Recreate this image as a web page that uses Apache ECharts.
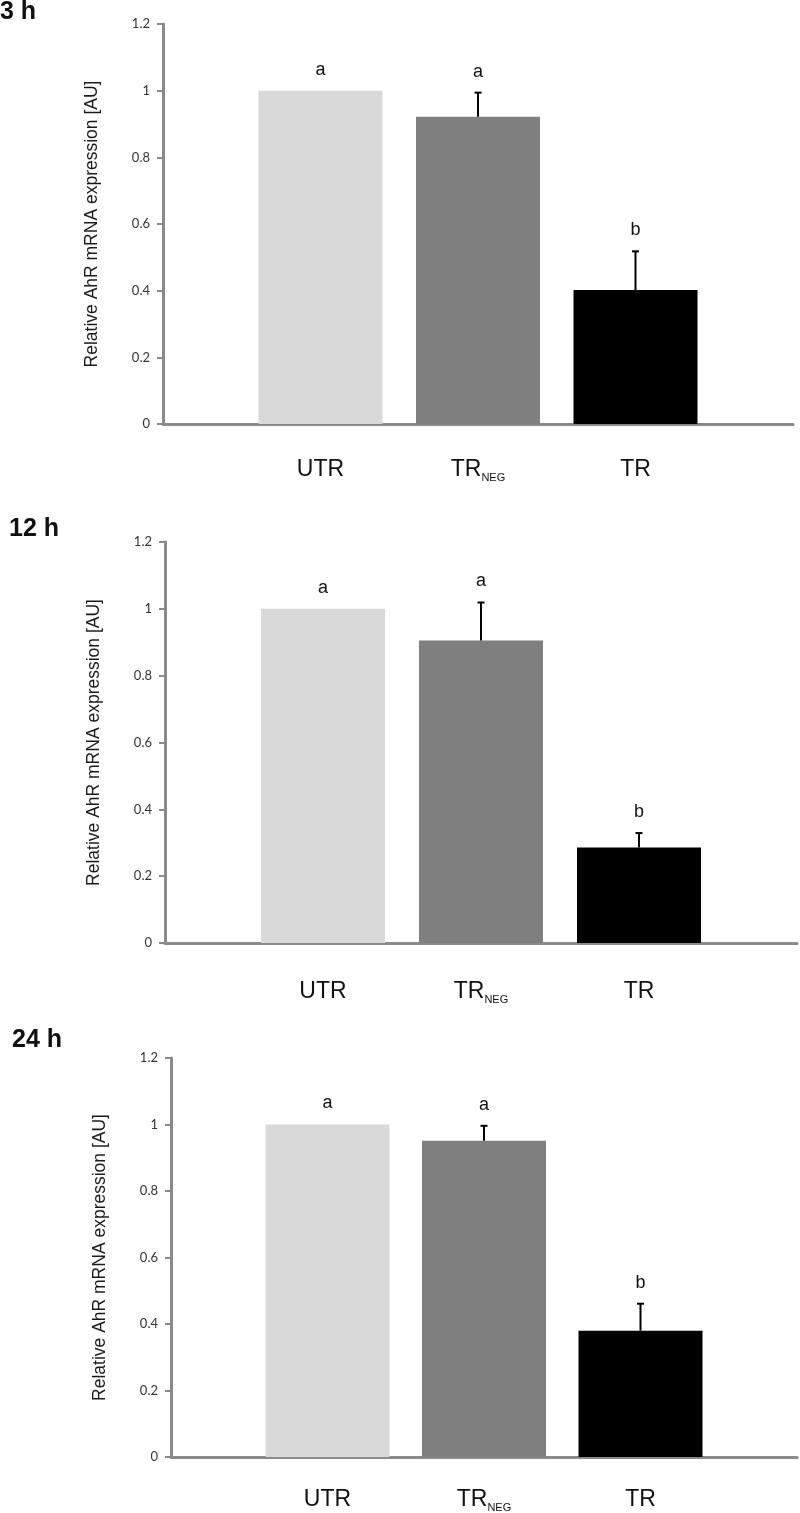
<!DOCTYPE html>
<html>
<head>
<meta charset="utf-8">
<script src="https://cdn.jsdelivr.net/npm/echarts@6/dist/echarts.min.js"></script>
<style>
  html, body { margin: 0; padding: 0; background: #ffffff; }
  #chart { width: 800px; height: 1513px; }
</style>
</head>
<body>
<div id="chart"></div>
<script>
// ---- data ----
const categories = ['UTR', 'TR_NEG', 'TR'];
const panelTitles = ['3 h', '12 h', '24 h'];
const yAxisName = 'Relative AhR mRNA expression [AU]';

const means3h  = [1.0, 0.922, 0.402];
const errors3h = [0, 0.072, 0.116];
const letters3h = ['a', 'a', 'b'];

const means12h  = [1.0, 0.905, 0.286];
const errors12h = [0, 0.114, 0.043];
const letters12h = ['a', 'a', 'b'];

const means24h  = [1.0, 0.951, 0.380];
const errors24h = [0, 0.045, 0.081];
const letters24h = ['a', 'a', 'b'];

const yMin = 0, yMax = 1.2, yStep = 0.2;
const barColors = ['#d9d9d9', '#7f7f7f', '#000000'];

// ---- layout ----
const panels = [
  { means: means3h,  errors: errors3h,  letters: letters3h,  grid: { left: 163, right: 7, top: 24,   height: 400 },  title: { left: 0,  top: 0 },    labelMargin: 33 },
  { means: means12h, errors: errors12h, letters: letters12h, grid: { left: 165, right: 3, top: 542,  height: 401 },  title: { left: 9,  top: 517 },  labelMargin: 36 },
  { means: means24h, errors: errors24h, letters: letters24h, grid: { left: 171, right: 0, top: 1058, height: 400 },  title: { left: 12, top: 1028 }, labelMargin: 30 }
];

// padded category list: empty slot at each end, boundaryGap false
const paddedCats = [''].concat(categories, ['']);

const axisGray = '#8a8a8a';
const option = {
  backgroundColor: '#ffffff',
  animation: false,
  title: panels.map((p, i) => ({
    text: panelTitles[i],
    left: p.title.left, top: p.title.top, padding: 0,
    textStyle: { fontFamily: 'Liberation Sans', fontWeight: 'bold', fontSize: 25, color: '#111' }
  })),
  grid: panels.map(p => Object.assign({ containLabel: false }, p.grid)),
  xAxis: panels.map((p, i) => ({
    type: 'category', gridIndex: i, data: paddedCats, boundaryGap: false,
    axisLine: { lineStyle: { color: axisGray, width: 3 } },
    axisTick: { show: false },
    splitLine: { show: false },
    axisLabel: {
      interval: 0, margin: p.labelMargin,
      formatter: function (v) {
        if (v === 'TR_NEG') return '{m|TR}{s|NEG}';
        return v ? '{m|' + v + '}' : '';
      },
      rich: {
        m: { fontFamily: 'Liberation Sans', fontSize: 23, lineHeight: 26, color: '#111' },
        s: { fontFamily: 'Liberation Sans', fontSize: 11, lineHeight: 10, verticalAlign: 'bottom', color: '#111' }
      }
    }
  })),
  yAxis: panels.map((p, i) => ({
    type: 'value', gridIndex: i, min: yMin, max: yMax, interval: yStep,
    name: yAxisName, nameLocation: 'middle', nameGap: 62,
    nameTextStyle: { fontFamily: 'Liberation Sans', fontSize: 17.5, color: '#1a1a1a' },
    axisLine: { show: true, lineStyle: { color: axisGray, width: 3 } },
    axisTick: { show: true, length: 6, lineStyle: { color: axisGray, width: 2 } },
    splitLine: { show: false },
    axisLabel: { fontFamily: 'Lato', fontSize: 13, color: '#333', margin: 13 }
  })),
  series: []
};

panels.forEach((p, i) => {
  // bars
  option.series.push({
    type: 'bar', xAxisIndex: i, yAxisIndex: i, barWidth: 124,
    data: p.means.map((m, k) => ({ value: [k + 1, m], itemStyle: { color: barColors[k] } })),
    z: 2
  });
  // error bars (upper only) + significance letters
  option.series.push({
    type: 'custom', xAxisIndex: i, yAxisIndex: i, z: 3,
    data: p.means.map((m, k) => [k + 1, m, m + p.errors[k], k]),
    renderItem: function (params, api) {
      const x = api.value(0), m = api.value(1), t = api.value(2), k = api.value(3);
      const p0 = api.coord([x, m]);
      const p1 = api.coord([x, t]);
      const children = [];
      if (t > m) {
        children.push({ type: 'line', shape: { x1: p0[0], y1: p0[1], x2: p1[0], y2: p1[1] }, style: { stroke: '#000', lineWidth: 2 } });
        children.push({ type: 'line', shape: { x1: p1[0] - 3.5, y1: p1[1], x2: p1[0] + 3.5, y2: p1[1] }, style: { stroke: '#000', lineWidth: 2 } });
      }
      children.push({
        type: 'text', x: p1[0], y: p1[1] - 21,
        style: { text: p.letters[k], fontFamily: 'Liberation Sans', fontSize: 18, fill: '#111', align: 'center', verticalAlign: 'middle' }
      });
      return { type: 'group', children: children };
    }
  });
});

const chart = echarts.init(document.getElementById('chart'), null, { renderer: 'canvas' });
chart.setOption(option);
</script>
</body>
</html>
